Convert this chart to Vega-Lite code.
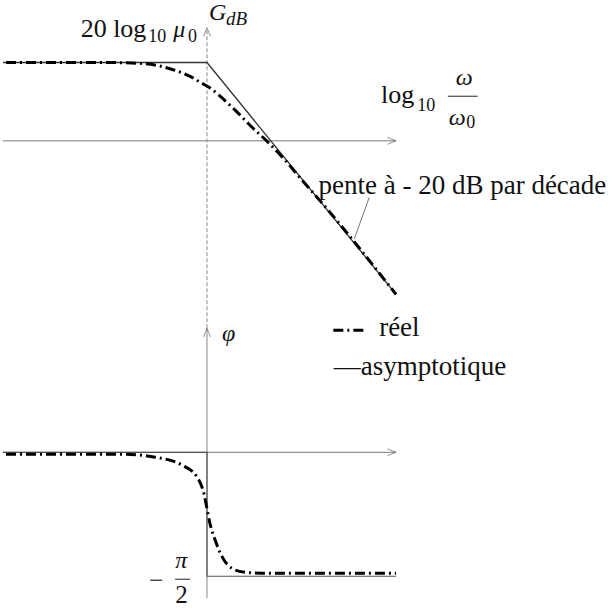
{
  "$schema": "https://vega.github.io/schema/vega-lite/v6.json",
  "width": 616,
  "height": 609,
  "padding": 0,
  "autosize": {"type": "fit", "contains": "padding"},
  "background": "white",
  "config": {"view": {"stroke": null}},
  "resolve": {"scale": {"y": "independent"}},
  "layer": [
    {
      "description": "gain x axis",
      "data": {"values": [{"x": -3.203, "y": 0}, {"x": 2.969, "y": 0}]},
      "mark": {"type": "line", "color": "#777", "strokeWidth": 1},
      "encoding": {
        "x": {"field": "x", "type": "quantitative", "scale": {"domain": [-3.203, 6.422], "nice": false, "zero": false}, "axis": null},
        "y": {"field": "y", "type": "quantitative", "scale": {"domain": [-118.48, 35.7], "nice": false, "zero": false}, "axis": null}
      }
    },
    {
      "description": "gain vertical axis (dashed)",
      "data": {"values": [{"x": 0, "y": -47.85}, {"x": 0, "y": 28.86}]},
      "mark": {"type": "line", "color": "#888", "strokeWidth": 1, "strokeDash": [4, 2]},
      "encoding": {
        "x": {"field": "x", "type": "quantitative", "scale": {"domain": [-3.203, 6.422], "nice": false, "zero": false}, "axis": null},
        "y": {"field": "y", "type": "quantitative", "scale": {"domain": [-118.48, 35.7], "nice": false, "zero": false}, "axis": null}
      }
    },
    {
      "description": "phase x axis",
      "data": {"values": [{"x": -3.203, "y": 0}, {"x": 2.969, "y": 0}]},
      "mark": {"type": "line", "color": "#777", "strokeWidth": 1},
      "encoding": {
        "x": {"field": "x", "type": "quantitative", "scale": {"domain": [-3.203, 6.422], "nice": false, "zero": false}, "axis": null},
        "y": {"field": "y", "type": "quantitative", "scale": {"domain": [-1.935, 5.718], "nice": false, "zero": false}, "axis": null}
      }
    },
    {
      "description": "phase vertical axis",
      "data": {"values": [{"x": 0, "y": -1.847}, {"x": 0, "y": 1.571}]},
      "mark": {"type": "line", "color": "#888", "strokeWidth": 1},
      "encoding": {
        "x": {"field": "x", "type": "quantitative", "scale": {"domain": [-3.203, 6.422], "nice": false, "zero": false}, "axis": null},
        "y": {"field": "y", "type": "quantitative", "scale": {"domain": [-1.935, 5.718], "nice": false, "zero": false}, "axis": null}
      }
    },
    {
      "description": "right arrowheads (gain)",
      "data": {"values": [{"x": 2.969, "y": 0}]},
      "mark": {"type": "point", "shape": "M-1,-0.4L0,0L-1,0.4", "filled": false, "stroke": "#666", "strokeWidth": 1, "size": 300},
      "encoding": {
        "x": {"field": "x", "type": "quantitative", "scale": {"domain": [-3.203, 6.422], "nice": false, "zero": false}, "axis": null},
        "y": {"field": "y", "type": "quantitative", "scale": {"domain": [-118.48, 35.7], "nice": false, "zero": false}, "axis": null}
      }
    },
    {
      "description": "up arrowhead (gain)",
      "data": {"values": [{"x": 0, "y": 28.86}]},
      "mark": {"type": "point", "shape": "M-0.4,1L0,0L0.4,1", "filled": false, "stroke": "#666", "strokeWidth": 1, "size": 300},
      "encoding": {
        "x": {"field": "x", "type": "quantitative", "scale": {"domain": [-3.203, 6.422], "nice": false, "zero": false}, "axis": null},
        "y": {"field": "y", "type": "quantitative", "scale": {"domain": [-118.48, 35.7], "nice": false, "zero": false}, "axis": null}
      }
    },
    {
      "description": "right arrowhead (phase)",
      "data": {"values": [{"x": 2.969, "y": 0}]},
      "mark": {"type": "point", "shape": "M-1,-0.4L0,0L-1,0.4", "filled": false, "stroke": "#666", "strokeWidth": 1, "size": 300},
      "encoding": {
        "x": {"field": "x", "type": "quantitative", "scale": {"domain": [-3.203, 6.422], "nice": false, "zero": false}, "axis": null},
        "y": {"field": "y", "type": "quantitative", "scale": {"domain": [-1.935, 5.718], "nice": false, "zero": false}, "axis": null}
      }
    },
    {
      "description": "up arrowhead (phase)",
      "data": {"values": [{"x": 0, "y": 1.571}]},
      "mark": {"type": "point", "shape": "M-0.4,1L0,0L0.4,1", "filled": false, "stroke": "#666", "strokeWidth": 1, "size": 300},
      "encoding": {
        "x": {"field": "x", "type": "quantitative", "scale": {"domain": [-3.203, 6.422], "nice": false, "zero": false}, "axis": null},
        "y": {"field": "y", "type": "quantitative", "scale": {"domain": [-1.935, 5.718], "nice": false, "zero": false}, "axis": null}
      }
    },
    {
      "description": "gain asymptote",
      "data": {"values": [{"x": -3.203, "y": 20}, {"x": 0, "y": 20}, {"x": 2.969, "y": -39.2}]},
      "mark": {"type": "line", "color": "#333", "strokeWidth": 1.3},
      "encoding": {
        "x": {"field": "x", "type": "quantitative", "scale": {"domain": [-3.203, 6.422], "nice": false, "zero": false}, "axis": null},
        "y": {"field": "y", "type": "quantitative", "scale": {"domain": [-118.48, 35.7], "nice": false, "zero": false}, "axis": null}
      }
    },
    {
      "description": "gain real",
      "data": {"values": [
        {"x": -3.156, "y": 20.0}, {"x": -1.64, "y": 20.0}, {"x": -1.016, "y": 19.75}, {"x": -0.594, "y": 18.48},
        {"x": -0.234, "y": 16.2}, {"x": -0.078, "y": 14.68}, {"x": 0.031, "y": 13.67}, {"x": 0.1875, "y": 11.65},
        {"x": 0.4375, "y": 7.9}, {"x": 0.703, "y": 3.54}, {"x": 0.969, "y": -0.51}, {"x": 1.219, "y": -4.81},
        {"x": 1.484, "y": -9.87}, {"x": 1.797, "y": -15.7}, {"x": 2.969, "y": -39.2}
      ]},
      "mark": {"type": "line", "color": "black", "strokeWidth": 3, "strokeDash": [10, 4, 2, 4], "interpolate": "monotone"},
      "encoding": {
        "x": {"field": "x", "type": "quantitative", "scale": {"domain": [-3.203, 6.422], "nice": false, "zero": false}, "axis": null},
        "y": {"field": "y", "type": "quantitative", "scale": {"domain": [-118.48, 35.7], "nice": false, "zero": false}, "axis": null}
      }
    },
    {
      "description": "phase asymptote",
      "data": {"values": [{"x": -3.203, "y": 0, "o": 0}, {"x": 0, "y": 0, "o": 1}, {"x": 0, "y": -1.5708, "o": 2}, {"x": 2.969, "y": -1.5708, "o": 3}]},
      "mark": {"type": "line", "color": "#555", "strokeWidth": 1.2},
      "encoding": {
        "x": {"field": "x", "type": "quantitative", "scale": {"domain": [-3.203, 6.422], "nice": false, "zero": false}, "axis": null},
        "y": {"field": "y", "type": "quantitative", "scale": {"domain": [-1.935, 5.718], "nice": false, "zero": false}, "axis": null},
        "order": {"field": "o"}
      }
    },
    {
      "description": "phase real",
      "data": {"values": [
        {"x": -3.156, "y": -0.025}, {"x": -1.328, "y": -0.025}, {"x": -0.8125, "y": -0.063}, {"x": -0.39, "y": -0.163},
        {"x": -0.156, "y": -0.314}, {"x": -0.047, "y": -0.528}, {"x": 0.0, "y": -0.716}, {"x": 0.047, "y": -0.905},
        {"x": 0.125, "y": -1.106}, {"x": 0.234, "y": -1.319}, {"x": 0.39, "y": -1.47}, {"x": 0.594, "y": -1.52},
        {"x": 0.859, "y": -1.533}, {"x": 2.969, "y": -1.533}
      ]},
      "mark": {"type": "line", "color": "black", "strokeWidth": 3, "strokeDash": [10, 4, 2, 4], "interpolate": "monotone"},
      "encoding": {
        "x": {"field": "x", "type": "quantitative", "scale": {"domain": [-3.203, 6.422], "nice": false, "zero": false}, "axis": null},
        "y": {"field": "y", "type": "quantitative", "scale": {"domain": [-1.935, 5.718], "nice": false, "zero": false}, "axis": null}
      }
    },
    {
      "description": "pointer to slope",
      "data": {"values": [{"x": 2.547, "y": -14.43}, {"x": 2.3125, "y": -25.06}]},
      "mark": {"type": "line", "color": "#777", "strokeWidth": 1},
      "encoding": {
        "x": {"field": "x", "type": "quantitative", "scale": {"domain": [-3.203, 6.422], "nice": false, "zero": false}, "axis": null},
        "y": {"field": "y", "type": "quantitative", "scale": {"domain": [-118.48, 35.7], "nice": false, "zero": false}, "axis": null}
      }
    },
    {
      "description": "legend sample real",
      "data": {"values": [{"x": 1.984, "y": -48.35}, {"x": 2.5, "y": -48.35}]},
      "mark": {"type": "line", "color": "black", "strokeWidth": 3, "strokeDash": [10, 4, 2, 4]},
      "encoding": {
        "x": {"field": "x", "type": "quantitative", "scale": {"domain": [-3.203, 6.422], "nice": false, "zero": false}, "axis": null},
        "y": {"field": "y", "type": "quantitative", "scale": {"domain": [-118.48, 35.7], "nice": false, "zero": false}, "axis": null}
      }
    },
    {
      "description": "fraction bar omega",
      "data": {"values": [{"x": 3.781, "y": 11.39}, {"x": 4.25, "y": 11.39}]},
      "mark": {"type": "line", "color": "#222", "strokeWidth": 1},
      "encoding": {
        "x": {"field": "x", "type": "quantitative", "scale": {"domain": [-3.203, 6.422], "nice": false, "zero": false}, "axis": null},
        "y": {"field": "y", "type": "quantitative", "scale": {"domain": [-118.48, 35.7], "nice": false, "zero": false}, "axis": null}
      }
    },
    {
      "description": "fraction bar pi/2",
      "data": {"values": [{"x": -0.5, "y": -1.6085}, {"x": -0.266, "y": -1.6085}]},
      "mark": {"type": "line", "color": "#222", "strokeWidth": 1},
      "encoding": {
        "x": {"field": "x", "type": "quantitative", "scale": {"domain": [-3.203, 6.422], "nice": false, "zero": false}, "axis": null},
        "y": {"field": "y", "type": "quantitative", "scale": {"domain": [-1.935, 5.718], "nice": false, "zero": false}, "axis": null}
      }
    },
    {
      "description": "minus sign bar",
      "data": {"values": [{"x": -0.891, "y": -1.621}, {"x": -0.703, "y": -1.621}]},
      "mark": {"type": "line", "color": "#222", "strokeWidth": 1.2},
      "encoding": {
        "x": {"field": "x", "type": "quantitative", "scale": {"domain": [-3.203, 6.422], "nice": false, "zero": false}, "axis": null},
        "y": {"field": "y", "type": "quantitative", "scale": {"domain": [-1.935, 5.718], "nice": false, "zero": false}, "axis": null}
      }
    },
    {
      "description": "normal text",
      "data": {"values": [
        {"x": -1.984, "y": 26.58, "t": "20 log"},
        {"x": 2.734, "y": 9.62, "t": "log"}
      ]},
      "mark": {"type": "text", "font": "Liberation Serif", "fontSize": 26, "align": "left", "baseline": "alphabetic", "color": "#111"},
      "encoding": {
        "x": {"field": "x", "type": "quantitative", "scale": {"domain": [-3.203, 6.422], "nice": false, "zero": false}, "axis": null},
        "y": {"field": "y", "type": "quantitative", "scale": {"domain": [-118.48, 35.7], "nice": false, "zero": false}, "axis": null},
        "text": {"field": "t"}
      }
    },
    {
      "description": "subscripts normal",
      "data": {"values": [
        {"x": -0.922, "y": 25.3, "t": "10"},
        {"x": -0.297, "y": 25.3, "t": "0"},
        {"x": 3.3, "y": 7.6, "t": "10"},
        {"x": 4.07, "y": 3.3, "t": "0"}
      ]},
      "mark": {"type": "text", "font": "Liberation Serif", "fontSize": 18, "align": "left", "baseline": "alphabetic", "color": "#111"},
      "encoding": {
        "x": {"field": "x", "type": "quantitative", "scale": {"domain": [-3.203, 6.422], "nice": false, "zero": false}, "axis": null},
        "y": {"field": "y", "type": "quantitative", "scale": {"domain": [-118.48, 35.7], "nice": false, "zero": false}, "axis": null},
        "text": {"field": "t"}
      }
    },
    {
      "description": "italic math",
      "data": {"values": [
        {"x": -0.531, "y": 26.58, "t": "μ"},
        {"x": 0.031, "y": 30.9, "t": "G"},
        {"x": 3.906, "y": 14.18, "t": "ω"},
        {"x": 3.797, "y": 4.05, "t": "ω"},
        {"x": 0.234, "y": -51.14, "t": "φ"}
      ]},
      "mark": {"type": "text", "font": "Liberation Serif", "fontStyle": "italic", "fontSize": 24, "align": "left", "baseline": "alphabetic", "color": "#111"},
      "encoding": {
        "x": {"field": "x", "type": "quantitative", "scale": {"domain": [-3.203, 6.422], "nice": false, "zero": false}, "axis": null},
        "y": {"field": "y", "type": "quantitative", "scale": {"domain": [-118.48, 35.7], "nice": false, "zero": false}, "axis": null},
        "text": {"field": "t"}
      }
    },
    {
      "description": "italic subscript",
      "data": {"values": [{"x": 0.3, "y": 29.6, "t": "dB"}]},
      "mark": {"type": "text", "font": "Liberation Serif", "fontStyle": "italic", "fontSize": 19, "align": "left", "baseline": "alphabetic", "color": "#111"},
      "encoding": {
        "x": {"field": "x", "type": "quantitative", "scale": {"domain": [-3.203, 6.422], "nice": false, "zero": false}, "axis": null},
        "y": {"field": "y", "type": "quantitative", "scale": {"domain": [-118.48, 35.7], "nice": false, "zero": false}, "axis": null},
        "text": {"field": "t"}
      }
    },
    {
      "description": "annotation text",
      "data": {"values": [
        {"x": 1.75, "y": -13.67, "t": "pente à - 20 dB par décade"},
        {"x": 2.703, "y": -49.87, "t": "réel"},
        {"x": 1.992, "y": -59.75, "t": "—asymptotique"}
      ]},
      "mark": {"type": "text", "font": "Liberation Serif", "fontSize": 27, "align": "left", "baseline": "alphabetic", "color": "#111"},
      "encoding": {
        "x": {"field": "x", "type": "quantitative", "scale": {"domain": [-3.203, 6.422], "nice": false, "zero": false}, "axis": null},
        "y": {"field": "y", "type": "quantitative", "scale": {"domain": [-118.48, 35.7], "nice": false, "zero": false}, "axis": null},
        "text": {"field": "t"}
      }
    },
    {
      "description": "pi",
      "data": {"values": [{"x": -0.5, "y": -1.47, "t": "π"}]},
      "mark": {"type": "text", "font": "Liberation Serif", "fontStyle": "italic", "fontSize": 24, "align": "left", "baseline": "alphabetic", "color": "#111"},
      "encoding": {
        "x": {"field": "x", "type": "quantitative", "scale": {"domain": [-3.203, 6.422], "nice": false, "zero": false}, "axis": null},
        "y": {"field": "y", "type": "quantitative", "scale": {"domain": [-1.935, 5.718], "nice": false, "zero": false}, "axis": null},
        "text": {"field": "t"}
      }
    },
    {
      "description": "denominator 2",
      "data": {"values": [{"x": -0.5, "y": -1.91, "t": "2"}]},
      "mark": {"type": "text", "font": "Liberation Serif", "fontSize": 25, "align": "left", "baseline": "alphabetic", "color": "#111"},
      "encoding": {
        "x": {"field": "x", "type": "quantitative", "scale": {"domain": [-3.203, 6.422], "nice": false, "zero": false}, "axis": null},
        "y": {"field": "y", "type": "quantitative", "scale": {"domain": [-1.935, 5.718], "nice": false, "zero": false}, "axis": null},
        "text": {"field": "t"}
      }
    }
  ]
}
